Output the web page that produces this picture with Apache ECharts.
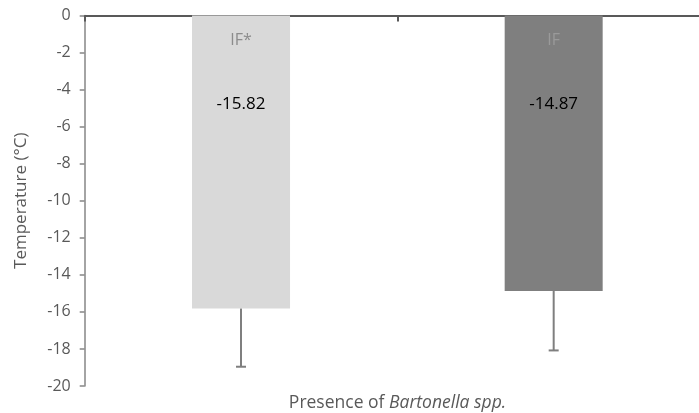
<!DOCTYPE html>
<html>
<head>
<meta charset="utf-8">
<script src="https://cdn.jsdelivr.net/npm/echarts@6/dist/echarts.min.js"></script>
<style>
  html, body { margin: 0; padding: 0; background: #fff; }
  #chart { width: 699px; height: 413px; }
</style>
</head>
<body>
<div id="chart"></div>
<script>
// Freezing temperature by Bartonella status
const categories = ['IF*', 'IF'];
const means = [-15.82, -14.87];
const errors = [3.14, 3.21];
const barColors = ['#d9d9d9', '#7f7f7f'];
const catLabelColors = ['#8c8c8c', '#9a9a9a'];
const yTicks = { min: -20, max: 0, interval: 2 };

const FONT = '"Open Sans", "Noto Sans", sans-serif';

const chart = echarts.init(document.getElementById('chart'));

const barData = means.map((v, i) => ({
  value: v,
  itemStyle: { color: barColors[i] },
  label: {
    rich: {
      cat: { color: catLabelColors[i], fontSize: 16, fontFamily: FONT, lineHeight: 22 },
      sp: { fontSize: 10, lineHeight: 42 },
      val: { color: '#000', fontSize: 17, fontFamily: FONT, lineHeight: 22 }
    }
  }
}));

const errData = means.map((v, i) => [i, v, v - errors[i]]);

chart.setOption({
  animation: false,
  grid: { left: 84.7, right: -11, top: 15.5, bottom: 27, outerBoundsMode: 'none', containLabel: false },
  xAxis: {
    type: 'category',
    data: categories,
    axisLine: { onZero: true, lineStyle: { color: '#595959', width: 2 } },
    axisTick: { show: true, length: 6, lineStyle: { color: '#595959', width: 2 } },
    axisLabel: { show: false },
    splitLine: { show: false }
  },
  yAxis: {
    type: 'value',
    min: yTicks.min,
    max: yTicks.max,
    interval: yTicks.interval,
    name: 'Temperature (°C)',
    nameLocation: 'middle',
    nameGap: 55,
    nameTextStyle: { color: '#595959', fontSize: 17, fontFamily: FONT },
    axisLine: { show: true, lineStyle: { color: '#868686', width: 1.5 } },
    axisTick: { show: true, length: 5, lineStyle: { color: '#868686', width: 1.5 } },
    axisLabel: { color: '#595959', fontSize: 16, fontFamily: FONT, margin: 14 },
    splitLine: { show: false }
  },
  series: [
    {
      type: 'bar',
      data: barData,
      barWidth: 98,
      label: {
        show: true,
        position: 'insideTop',
        distance: 13.5,
        formatter: p => '{cat|' + categories[p.dataIndex] + '}\n{sp| }\n{val|' + p.value.toFixed(2) + '}'
      }
    },
    {
      type: 'custom',
      data: errData,
      z: 3,
      renderItem: (params, api) => {
        const x = api.value(0);
        const top = api.coord([x, api.value(1)]);
        const bot = api.coord([x, api.value(2)]);
        const cap = 5;
        const style = { stroke: '#7f7f7f', lineWidth: 2 };
        return {
          type: 'group',
          children: [
            { type: 'line', shape: { x1: top[0], y1: top[1], x2: bot[0], y2: bot[1] }, style },
            { type: 'line', shape: { x1: bot[0] - cap, y1: bot[1], x2: bot[0] + cap, y2: bot[1] }, style }
          ]
        };
      }
    }
  ],
  graphic: [
    {
      type: 'text',
      x: 397.5,
      y: 403,
      style: {
        text: '{n|Presence of }{i|Bartonella spp.}',
        align: 'center',
        verticalAlign: 'middle',
        rich: {
          n: { fontSize: 17.5, fontFamily: FONT, fill: '#595959', color: '#595959' },
          i: { fontSize: 17.5, fontFamily: FONT, fontStyle: 'italic', fill: '#595959', color: '#595959' }
        }
      }
    }
  ]
});
</script>
</body>
</html>
